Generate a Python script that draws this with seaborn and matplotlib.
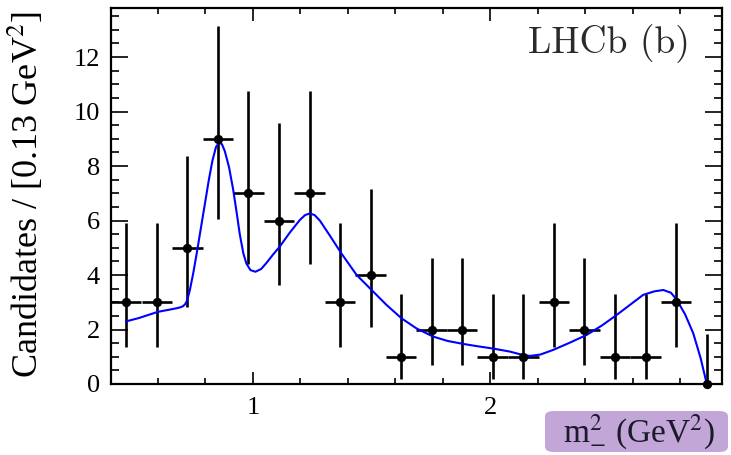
import numpy as np
import pandas as pd
import matplotlib
matplotlib.use("Agg")
import matplotlib.pyplot as plt
from matplotlib.ticker import MultipleLocator
from matplotlib.patches import FancyBboxPatch
import seaborn as sns

# ---- data ----
bin_centers = [0.467, 0.596, 0.724, 0.853, 0.981, 1.110, 1.239, 1.367, 1.496, 1.624,
               1.753, 1.881, 2.010, 2.139, 2.267, 2.396, 2.524, 2.653, 2.781, 2.911]
counts = [3, 3, 5, 9, 7, 6, 7, 3, 4, 1, 2, 2, 1, 1, 3, 2, 1, 1, 3, 0]
err_low = [1.63, 1.63, 2.16, 2.94, 2.58, 2.38, 2.58, 1.63, 1.91, 0.83,
           1.29, 1.29, 0.83, 0.83, 1.63, 1.29, 0.83, 0.83, 1.63, 0.0]
err_high = [2.92, 2.92, 3.38, 4.15, 3.77, 3.58, 3.77, 2.92, 3.16, 2.30,
            2.64, 2.64, 2.30, 2.30, 2.92, 2.64, 2.30, 2.30, 2.92, 1.84]
bin_half_width = 0.0643

curve_x = [0.467, 0.52, 0.601, 0.650, 0.679, 0.697, 0.707, 0.716, 0.724, 0.735,
           0.749, 0.763, 0.780, 0.798, 0.815,
           0.830, 0.845, 0.858, 0.870, 0.882, 0.900, 0.917, 0.931, 0.945, 0.960,
           0.973, 0.990, 1.011, 1.035, 1.058, 1.085, 1.114, 1.155, 1.198, 1.220,
           1.240, 1.260, 1.282, 1.324, 1.373, 1.437, 1.500, 1.563, 1.626, 1.689,
           1.759, 1.820, 1.886, 1.950, 2.012, 2.082, 2.130, 2.166, 2.210, 2.264,
           2.330, 2.405, 2.470, 2.531, 2.590, 2.643, 2.690, 2.728, 2.760, 2.784,
           2.820, 2.854, 2.885, 2.911]
curve_y = [2.30, 2.42, 2.65, 2.73, 2.78, 2.82, 2.86, 2.94, 3.08, 3.45,
           4.06, 4.75, 5.65, 6.60, 7.50,
           8.20, 8.70, 8.86, 8.80, 8.55, 7.95, 7.15, 6.35, 5.50, 4.80,
           4.42, 4.18, 4.12, 4.22, 4.45, 4.75, 5.05, 5.55, 6.02, 6.20,
           6.26, 6.20, 6.00, 5.45, 4.79, 4.00, 3.45, 2.90, 2.41, 2.04,
           1.74, 1.58, 1.47, 1.38, 1.30, 1.19, 1.08, 1.03, 1.08, 1.25,
           1.50, 1.80, 2.15, 2.53, 2.92, 3.27, 3.40, 3.45, 3.35, 3.10,
           2.55, 1.86, 0.95, 0.0]

x_ticks = [1, 2]
y_ticks = [0, 2, 4, 6, 8, 10, 12]

sns.set_theme(style="white")
plt.rcParams["font.family"] = ["Liberation Serif", "DejaVu Serif"]
plt.rcParams["mathtext.fontset"] = "stix"

W, H = 731, 455
fig = plt.figure(figsize=(W / 100, H / 100), dpi=100)
ax = fig.add_axes([111 / W, 1 - 384 / H, (722 - 111) / W, (384 - 8) / H])

df_pts = pd.DataFrame({"x": bin_centers, "y": counts})
df_curve = pd.DataFrame({"x": curve_x, "y": curve_y})

ax.errorbar(bin_centers, counts, yerr=[err_low, err_high], xerr=bin_half_width,
            fmt="none", ecolor="black", elinewidth=1.9, capsize=0, zorder=2)
sns.lineplot(data=df_curve, x="x", y="y", ax=ax, color="#0000ff", linewidth=1.5,
             sort=False, zorder=3)
sns.scatterplot(data=df_pts, x="x", y="y", ax=ax, color="black", s=45,
                edgecolor="black", linewidth=0, zorder=4, clip_on=False)

ax.set_xlim(0.403, 2.975)
ax.set_ylim(0, 13.8)
ax.set_xticks(x_ticks)
ax.set_yticks(y_ticks)
ax.xaxis.set_minor_locator(MultipleLocator(0.2))
ax.yaxis.set_minor_locator(MultipleLocator(0.5))
ax.tick_params(axis="x", which="major", direction="in", length=9, width=1.2,
               top=True, bottom=True, labelsize=19, pad=9, color="black",
               labelcolor="black")
ax.tick_params(axis="x", which="minor", direction="in", length=4.5, width=1.2,
               top=True, bottom=True, color="black")
ax.tick_params(axis="y", which="major", direction="in", length=12, width=1.2,
               left=True, right=True, labelsize=19, pad=8, color="black",
               labelcolor="black")
ax.tick_params(axis="y", which="minor", direction="in", length=6, width=1.2,
               left=True, right=True, color="black")
for sp in ax.spines.values():
    sp.set_visible(True)
    sp.set_color("black")
    sp.set_linewidth(1.6)

ax.set_xlabel("")
ax.set_ylabel("Candidates / [0.13 GeV$^{\\mathrm{2}}$]", fontsize=26, color="black")
ax.yaxis.set_label_coords(-0.106, 0.505)

ax.text(0.948, 0.905, "LHCb (b)", transform=ax.transAxes, ha="right", va="center",
        fontsize=27, family=["cmr10", "DejaVu Serif"], color="#2a2a2a")

box = FancyBboxPatch((545 / W, 1 - 452 / H), (728 - 545) / W, (452 - 411) / H,
                     boxstyle="round,pad=0,rounding_size=0.012",
                     transform=fig.transFigure, facecolor="#c3a6d8",
                     edgecolor="none", zorder=1)
fig.patches.append(box)
fig.text(639 / W, 1 - 432 / H, "m$^{\\mathrm{2}}_{\\mathrm{-}}$ (GeV$^{\\mathrm{2}}$)",
         ha="center", va="center", fontsize=24, color="#1a1a2a", zorder=2)

fig.savefig("out.png", dpi=100, facecolor="white")
